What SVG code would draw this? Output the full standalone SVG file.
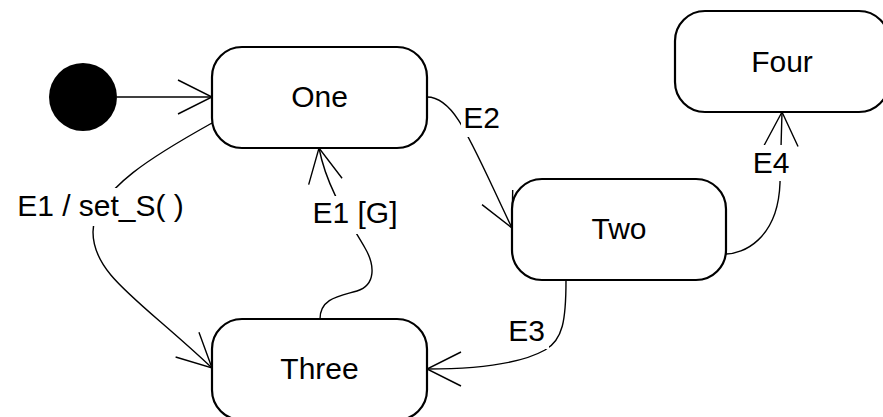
<svg xmlns="http://www.w3.org/2000/svg" width="883" height="417" viewBox="0 0 883 417">
<style>
.node{fill:#fff;stroke:#000;stroke-width:2.2}
.conn{fill:none;stroke:#000;stroke-width:1.4}
.t{font-family:"Liberation Sans",Arial,sans-serif;font-size:30px;fill:#000;text-anchor:middle}
.bg{fill:#fff;stroke:none}
</style>
<defs>
<marker id="open" markerUnits="userSpaceOnUse" markerWidth="40" markerHeight="40" viewBox="-38 -20 40 40" refX="0" refY="0" orient="auto" overflow="visible">
<path d="M-34,-17 L0,0 L-34,17" fill="none" stroke="#000" stroke-width="1.4"/>
</marker>
</defs>
<rect width="883" height="417" fill="#fff"/>
<g id="connectors">
<path class="conn" d="M117,97 L212,97" marker-end="url(#open)"/>
<path class="conn" d="M427,97 C455,97 470,140 512,228" marker-end="url(#open)"/>
<path class="conn" d="M726,254 C742,254 778,240 780,183 L782,112" marker-end="url(#open)"/>
<path class="conn" d="M566,280 C566,320 563,340 545,350 C520,364 480,369 427,369" marker-end="url(#open)"/>
<path class="conn" d="M212,123 C160,152 93,190 93,232 C93,275 140,300 212,368" marker-end="url(#open)"/>
<path class="conn" d="M320,319 C320,298 340,296 357,291 C376,285 375,265 365,248 C352,225 327,190 319,148" marker-end="url(#open)"/>
<g id="label-E2"><rect class="bg" x="461" y="105" width="42" height="32"/><text class="t" x="481.5" y="128">E2</text></g>
<g id="label-E4"><rect class="bg" x="751" y="145" width="40" height="36"/><text class="t" x="771" y="173">E4</text></g>
<g id="label-E3"><rect class="bg" x="505" y="316" width="44" height="33"/><text class="t" x="526.5" y="341">E3</text></g>
<g id="label-E1-set"><rect class="bg" x="10" y="188" width="181" height="38"/><text class="t" x="100.5" y="216">E1 / set_S( )</text></g>
<g id="label-E1-G"><rect class="bg" x="309" y="196" width="92" height="38"/><text class="t" x="355" y="223">E1 [G]</text></g>
</g>
<g id="initial"><circle cx="83" cy="97" r="34" fill="#000"/></g>
<g id="One"><rect class="node" x="212" y="47" width="215" height="101" rx="30"/><text class="t" x="319.5" y="107">One</text></g>
<g id="Two"><rect class="node" x="512" y="179" width="214" height="101" rx="30"/><text class="t" x="619" y="239">Two</text></g>
<g id="Three"><rect class="node" x="212" y="319" width="215" height="101" rx="30"/><text class="t" x="319.5" y="379">Three</text></g>
<g id="Four"><rect class="node" x="675" y="11" width="214" height="101" rx="30"/><text class="t" x="782" y="72">Four</text></g>
</svg>
